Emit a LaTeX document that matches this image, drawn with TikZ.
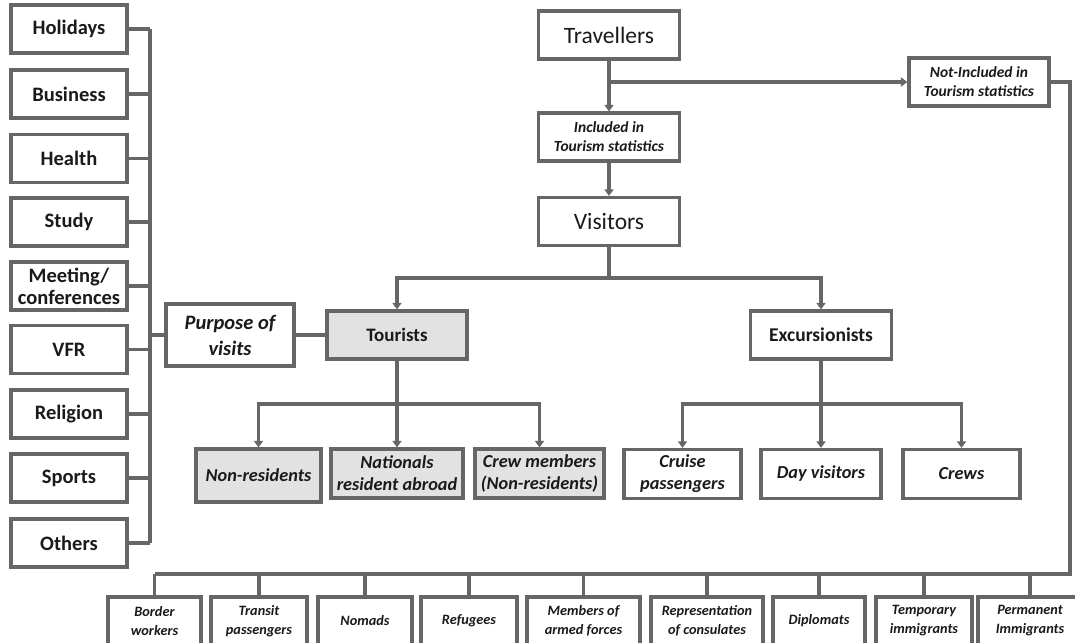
\documentclass[tikz,border=0pt]{standalone}
\usepackage{fontspec}
\setmainfont{Carlito}
\usetikzlibrary{arrows.meta}
\definecolor{linec}{HTML}{666666}
\definecolor{textc}{HTML}{1A1A1A}
\definecolor{fillc}{HTML}{E2E2E2}
\tikzset{
  box/.style={draw=linec, line width=3.2pt, fill=white, align=center, inner sep=0pt, text=textc},
  leftbox/.style={box, minimum width=116pt, minimum height=48pt, font=\bfseries\fontsize{20.5}{22}\selectfont},
  bigbox/.style={box, minimum width=141pt, minimum height=48pt, font=\fontsize{23.5}{25}\selectfont},
  smallbox/.style={box, minimum height=48pt, font=\bfseries\itshape\fontsize{15.5}{19}\selectfont},
  midbox/.style={box, minimum height=49pt, font=\bfseries\itshape\fontsize{18.3}{22}\selectfont},
  botbox/.style={box, minimum height=48pt, font=\bfseries\itshape\fontsize{14.3}{19}\selectfont},
  grayfill/.style={fill=fillc},
  conn/.style={draw=linec, line width=3.2pt},
  arr/.style={conn, -{Triangle[width=9pt,length=6.5pt]}},
}
\begin{document}
\begin{tikzpicture}[x=1pt,y=-1pt]
\clip (0,0) rectangle (1075,642);
\fill[white] (0,0) rectangle (1075,642);
% left column
\node[leftbox] (hol) at (69,29) {Holidays};
\node[leftbox] (bus) at (69,94) {Business};
\node[leftbox] (hea) at (69,158.5) {Health};
\node[leftbox] (stu) at (69,222) {Study};
\node[leftbox] (mee) at (69,286) {Meeting/\\conferences};
\node[leftbox] (vfr) at (69,349.5) {VFR};
\node[leftbox] (rel) at (69,414) {Religion};
\node[leftbox] (spo) at (69,478) {Sports};
\node[leftbox] (oth) at (69,543) {Others};
\coordinate (bx) at (150,0);
\draw[conn] (hol.east -| bx) -- (oth.east -| bx);
\foreach \n in {hol,bus,hea,stu,mee,vfr,rel,spo,oth}{
  \draw[conn] (\n.east) -- (\n.east -| bx);
}
% purpose and tourists
\node[box, minimum width=128pt, minimum height=62pt, font=\bfseries\itshape\fontsize{20.5}{26}\selectfont] (pur) at (230,335) {Purpose of\\visits};
\node[box, grayfill, minimum width=140pt, minimum height=48pt, font=\bfseries\fontsize{19}{21}\selectfont] (tou) at (397,335) {Tourists};
\node[box, minimum width=141pt, minimum height=48pt, font=\bfseries\fontsize{19.5}{21}\selectfont] (exc) at (821,335) {Excursionists};
\draw[conn] (bx |- pur.west) -- (pur.west);
\draw[conn] (pur.east) -- (tou.west);
% top
\node[bigbox] (tra) at (609,35) {Travellers};
\node[smallbox, minimum width=141pt] (inc) at (609,137) {Included in\\Tourism statistics};
\node[bigbox] (vis) at (609,221.5) {Visitors};
\node[smallbox, minimum width=140pt] (not) at (979,82) {Not-Included in\\Tourism statistics};
\draw[arr] (tra.south) -- (inc.north);
\draw[arr] (tra.south |- not.west) -- (not.west);
\draw[arr] (inc.south) -- (vis.north);
\coordinate (vy) at (0,278);
\draw[conn] (vis.south) -- (vis.south |- vy);
\draw[arr] (vis.south |- vy) -| (tou.north);
\draw[arr] (vis.south |- vy) -| (exc.north);
% middle row
\node[midbox, grayfill, minimum width=125pt, minimum height=53pt] (nonr) at (258.5,475.5) {Non-residents};
\node[midbox, grayfill, minimum width=132pt] (nat) at (397,473.5) {Nationals\\resident abroad};
\node[midbox, grayfill, minimum width=129pt] (crm) at (539.5,473.5) {Crew members\\(Non-residents)};
\node[midbox, minimum width=117pt] (cru) at (682.5,474) {Cruise\\passengers};
\node[midbox, minimum width=120pt] (day) at (821,474) {Day visitors};
\node[midbox, minimum width=117pt] (crw) at (961.5,474) {Crews};
\coordinate (my) at (0,404);
\draw[arr] (tou.south) -- (nat.north);
\draw[arr] (tou.south |- my) -| (nonr.north);
\draw[arr] (tou.south |- my) -| (crm.north);
\draw[arr] (exc.south) -- (day.north);
\draw[arr] (exc.south |- my) -| (cru.north);
\draw[arr] (exc.south |- my) -| (crw.north);
% bottom row
\node[botbox, minimum width=93pt] (bor) at (154.5,621) {Border\\workers};
\node[botbox, minimum width=96pt] (tps) at (259,621) {Transit\\passengers};
\node[botbox, minimum width=94pt] (nom) at (365,621) {Nomads};
\node[botbox, minimum width=96pt] (ref) at (469,621) {Refugees};
\node[botbox, minimum width=113pt] (mem) at (583.5,621) {Members of\\armed forces};
\node[botbox, minimum width=112pt] (rep) at (707,621) {Representation\\of consulates};
\node[botbox, minimum width=92pt] (dip) at (819,621) {Diplomats};
\node[botbox, minimum width=96pt] (tem) at (924,621) {Temporary\\immigrants};
\node[botbox, minimum width=104pt] (per) at (1030,621) {Permanent\\Immigrants};
\coordinate (rb) at (1070,574);
\draw[conn] (not.east) -| (rb) -- (bor.north |- rb);
\foreach \n in {bor,tps,nom,ref,mem,rep,dip,tem,per}{
  \draw[conn] (\n.north |- rb) -- (\n.north);
}
\end{tikzpicture}
\end{document}
